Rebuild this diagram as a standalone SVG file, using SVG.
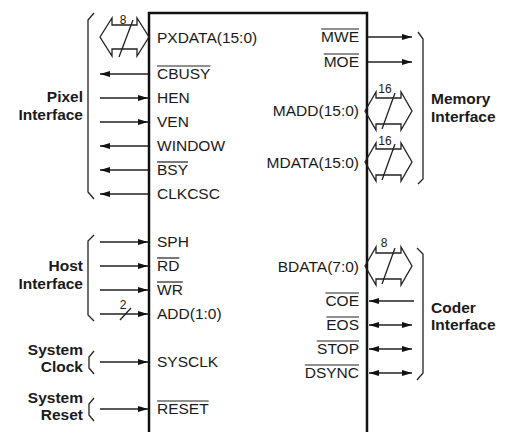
<svg xmlns="http://www.w3.org/2000/svg" width="510" height="432" viewBox="0 0 510 432">
<style>
  .pin { font-family: "Liberation Sans", Arial, sans-serif; font-size: 15.5px; fill: #1a1a1a; }
  .end { text-anchor: end; }
  .grp { font-family: "Liberation Sans", Arial, sans-serif; font-size: 15.5px; font-weight: bold; fill: #1a1a1a; }
  .num { font-family: "Liberation Sans", Arial, sans-serif; font-size: 12px; fill: #1a1a1a; text-anchor: middle; }
  .box { fill: none; stroke: #111; stroke-width: 2.5; }
  .br { fill: none; stroke: #222; stroke-width: 1.3; }
  .ob { stroke: #222; stroke-width: 1.2; }
  .w { stroke: #222; stroke-width: 1.3; fill: none; }
  .in { marker-end: url(#ah); }
  .bi { marker-start: url(#ah); marker-end: url(#ah); }
  .bus { fill: none; stroke: #222; stroke-width: 1.3; stroke-linejoin: miter; }
</style>
<defs>
  <marker id="ah" markerWidth="10" markerHeight="6" refX="10" refY="3" orient="auto-start-reverse" markerUnits="userSpaceOnUse">
    <path d="M0,0 L10,3 L0,6 z" fill="#111"/>
  </marker>
</defs>
<rect width="510" height="432" fill="#fff"/>

<g id="chip">
  <path class="box" d="M149,440 V13 H367 V440"/>
  <text class="pin" x="157" y="43">PXDATA(15:0)</text>
  <text class="pin" x="157" y="79">CBUSY</text>
  <line class="ob" x1="157" y1="66" x2="210.4" y2="66"/>
  <text class="pin" x="157" y="103">HEN</text>
  <text class="pin" x="157" y="127">VEN</text>
  <text class="pin" x="157" y="151">WINDOW</text>
  <text class="pin" x="157" y="175">BSY</text>
  <line class="ob" x1="157" y1="162" x2="188" y2="162"/>
  <text class="pin" x="157" y="199">CLKCSC</text>
  <text class="pin" x="157" y="247">SPH</text>
  <text class="pin" x="157" y="271">RD</text>
  <line class="ob" x1="157" y1="258" x2="179.4" y2="258"/>
  <text class="pin" x="157" y="295">WR</text>
  <line class="ob" x1="157" y1="282" x2="182.8" y2="282"/>
  <text class="pin" x="157" y="319">ADD(1:0)</text>
  <text class="pin" x="157" y="367">SYSCLK</text>
  <text class="pin" x="157" y="414">RESET</text>
  <line class="ob" x1="157" y1="401" x2="208.7" y2="401"/>

  <text class="pin end" x="359" y="42">MWE</text>
  <line class="ob" x1="321.1" y1="29" x2="359" y2="29"/>
  <text class="pin end" x="359" y="67">MOE</text>
  <line class="ob" x1="323.7" y1="54" x2="359" y2="54"/>
  <text class="pin end" x="359" y="116">MADD(15:0)</text>
  <text class="pin end" x="359" y="168">MDATA(15:0)</text>
  <text class="pin end" x="359" y="272">BDATA(7:0)</text>
  <text class="pin end" x="359" y="306">COE</text>
  <line class="ob" x1="325.4" y1="293" x2="359" y2="293"/>
  <text class="pin end" x="359" y="330">EOS</text>
  <line class="ob" x1="326.3" y1="317" x2="359" y2="317"/>
  <text class="pin end" x="359" y="354">STOP</text>
  <line class="ob" x1="316.8" y1="341" x2="359" y2="341"/>
  <text class="pin end" x="359" y="378">DSYNC</text>
  <line class="ob" x1="304.8" y1="365" x2="359" y2="365"/>
</g>

<g id="pixel-interface">
  <path class="br" d="M94,13 L88,20 V192 L94,199"/>
  <text class="grp end" x="83" y="102">Pixel</text>
  <text class="grp end" x="83" y="120">Interface</text>
</g>

<g id="host-interface">
  <path class="br" d="M94,235 L88,241 V315 L94,321"/>
  <text class="grp end" x="83" y="271">Host</text>
  <text class="grp end" x="83" y="289">Interface</text>
</g>

<g id="system-clock">
  <path class="br" d="M94,351 L89,357 V368 L94,374"/>
  <text class="grp end" x="83" y="355">System</text>
  <text class="grp end" x="83" y="372">Clock</text>
</g>

<g id="system-reset">
  <path class="br" d="M94,398 L89,404 V415 L94,421"/>
  <text class="grp end" x="83" y="403">System</text>
  <text class="grp end" x="83" y="420">Reset</text>
</g>

<g id="memory-interface">
  <path class="br" d="M418,32 L423,39 V179 L418,184"/>
  <text class="grp" x="431" y="104">Memory</text>
  <text class="grp" x="431" y="122">Interface</text>
</g>

<g id="coder-interface">
  <path class="br" d="M417,248 L423,254 V373 L417,380"/>
  <text class="grp" x="431" y="313">Coder</text>
  <text class="grp" x="431" y="330">Interface</text>
</g>

<g id="connectors">
  <!-- buses -->
  <polygon class="bus" points="100,37 112,18 112,25 137,25 137,18 149,37 137,56 137,49 112,49 112,56"/>
  <line class="w" x1="119" y1="57" x2="133" y2="20"/>
  <text class="num" x="123" y="24">8</text>

  <polygon class="bus" points="365,111 376,92 376,98 401,98 401,92 412,111 401,130 401,124 376,124 376,130"/>
  <line class="w" x1="382" y1="129" x2="395" y2="93"/>
  <text class="num" x="385" y="93">16</text>

  <polygon class="bus" points="365,162 376,143 376,149 401,149 401,143 412,162 401,181 401,175 376,175 376,181"/>
  <line class="w" x1="382" y1="180" x2="395" y2="144"/>
  <text class="num" x="385" y="145">16</text>

  <polygon class="bus" points="365,266 376,247 376,253 401,253 401,247 412,266 401,285 401,279 376,279 376,285"/>
  <line class="w" x1="382" y1="284" x2="395" y2="248"/>
  <text class="num" x="384" y="247">8</text>

  <!-- pixel -->
  <line class="w in" x1="148" y1="74" x2="100" y2="74"/>
  <line class="w in" x1="100" y1="98" x2="148" y2="98"/>
  <line class="w in" x1="100" y1="122" x2="148" y2="122"/>
  <line class="w in" x1="148" y1="146" x2="100" y2="146"/>
  <line class="w in" x1="148" y1="170" x2="100" y2="170"/>
  <line class="w in" x1="148" y1="194" x2="100" y2="194"/>
  <!-- host -->
  <line class="w in" x1="100" y1="242" x2="148" y2="242"/>
  <line class="w in" x1="100" y1="266" x2="148" y2="266"/>
  <line class="w in" x1="100" y1="290" x2="148" y2="290"/>
  <line class="w in" x1="100" y1="314" x2="148" y2="314"/>
  <line class="w" x1="120" y1="320" x2="131" y2="308"/>
  <text class="num" x="123" y="309">2</text>
  <!-- clock / reset -->
  <line class="w in" x1="100" y1="362" x2="148" y2="362"/>
  <line class="w in" x1="100" y1="409" x2="148" y2="409"/>
  <!-- memory -->
  <line class="w in" x1="368" y1="37" x2="412" y2="37"/>
  <line class="w in" x1="368" y1="62" x2="412" y2="62"/>
  <!-- coder -->
  <line class="w in" x1="414" y1="301" x2="369" y2="301"/>
  <line class="w bi" x1="369" y1="325" x2="412" y2="325"/>
  <line class="w bi" x1="369" y1="349" x2="412" y2="349"/>
  <line class="w bi" x1="369" y1="373" x2="412" y2="373"/>
</g>
</svg>
